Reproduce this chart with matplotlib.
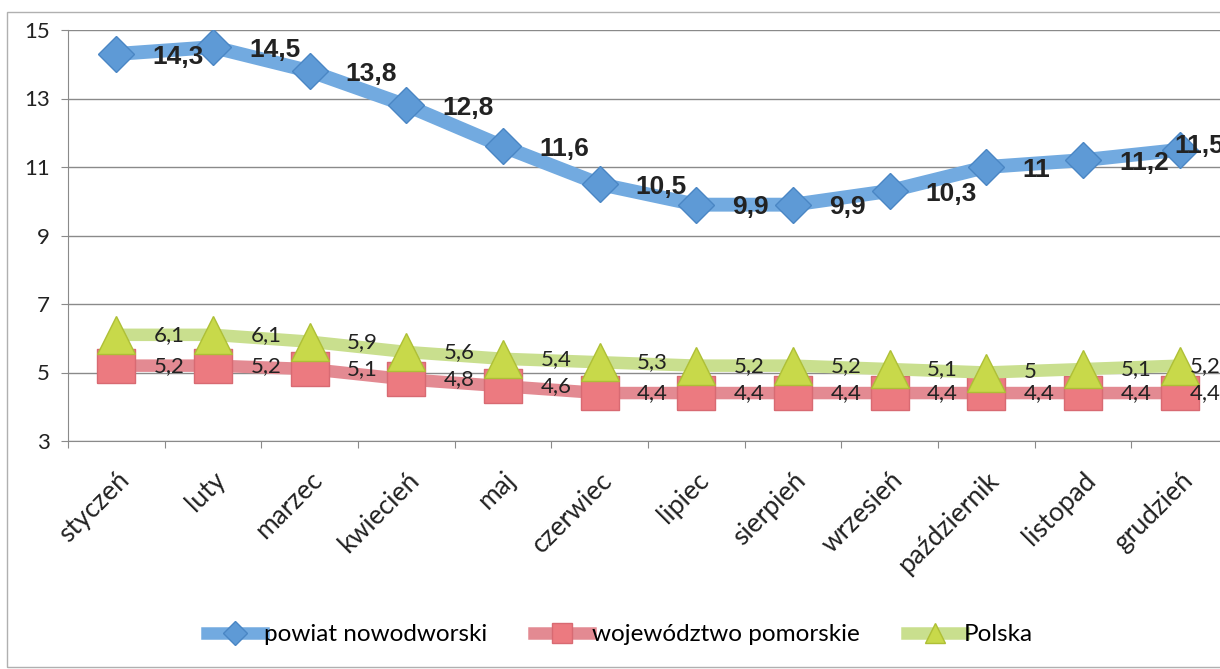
import matplotlib
matplotlib.use("Agg")
import matplotlib.pyplot as plt
from matplotlib.patches import Rectangle

months = ["styczeń", "luty", "marzec", "kwiecień", "maj", "czerwiec",
          "lipiec", "sierpień", "wrzesień", "październik", "listopad", "grudzień"]
powiat = [14.3, 14.5, 13.8, 12.8, 11.6, 10.5, 9.9, 9.9, 10.3, 11.0, 11.2, 11.5]
wojewodztwo = [5.2, 5.2, 5.1, 4.8, 4.6, 4.4, 4.4, 4.4, 4.4, 4.4, 4.4, 4.4]
polska = [6.1, 6.1, 5.9, 5.6, 5.4, 5.3, 5.2, 5.2, 5.1, 5.0, 5.1, 5.2]
yticks = [3, 5, 7, 9, 11, 13, 15]

plt.rcParams["font.family"] = ["Lato", "DejaVu Sans"]

W, H = 1220, 669
fig = plt.figure(figsize=(W / 100, H / 100), dpi=100)

# outer chart border (partly cut off by the scan)
fig.patches.append(Rectangle((7 / W, 2 / H), 1.2, (H - 12 - 2) / H,
                             transform=fig.transFigure, fill=False,
                             edgecolor="#b0b0b0", lw=1.0))

left, right = 68, 1228
top, bottom = 30, 441
ax = fig.add_axes([left / W, 1 - bottom / H, (right - left) / W, (bottom - top) / H])

x = list(range(len(months)))


def fmt(v):
    return f"{v:g}".replace(".", ",")


# blue series
ax.plot(x, powiat, color="#72aae0", lw=10, solid_capstyle="round", zorder=3)
ax.plot(x, powiat, ls="none", marker="D", markersize=18,
        markerfacecolor="#5e9ad6", markeredgecolor="#4a86c4", mew=1, zorder=4)

# red series
rect = [(-1, -0.9), (1, -0.9), (1, 0.9), (-1, 0.9), (-1, -0.9)]
ax.plot(x, wojewodztwo, color="#e38a92", lw=9, zorder=3)
ax.plot(x, wojewodztwo, ls="none", marker=rect, markersize=27,
        markerfacecolor="#ec7a80", markeredgecolor="#d86a72", mew=1, zorder=4)

# green series
ax.plot(x, polska, color="#c9df8e", lw=9, zorder=5)
ax.plot(x, polska, ls="none", marker="^", markersize=27,
        markerfacecolor="#c8d94a", markeredgecolor="#aebf36", mew=1, zorder=6)

last = len(months) - 1
for i in x:
    if i < last:
        bdx, bdy, dx = 26, -2, 27
    else:
        bdx, bdy, dx = -4, 3, 7
    ax.annotate(fmt(powiat[i]), (i, powiat[i]), xytext=(bdx, bdy),
                textcoords="offset points", ha="left", va="center",
                fontsize=19, fontweight="bold", family="Liberation Sans",
                color="#222222", zorder=8, annotation_clip=False)
    ax.annotate(fmt(polska[i]), (i, polska[i]), xytext=(dx, 0),
                textcoords="offset points", ha="left", va="center",
                fontsize=16, color="#222222", zorder=8, annotation_clip=False)
    ax.annotate(fmt(wojewodztwo[i]), (i, wojewodztwo[i]), xytext=(dx, 0),
                textcoords="offset points", ha="left", va="center",
                fontsize=16, color="#222222", zorder=8, annotation_clip=False)

ax.set_xlim(-0.5, len(months) - 0.5)
ax.set_ylim(3, 15)
ax.set_yticks(yticks)
ax.set_yticklabels([str(t) for t in yticks], fontsize=16, color="#222222")
ax.yaxis.grid(True, color="#8a8a8a", lw=1.0)
ax.set_axisbelow(True)

ax.set_xticks([i - 0.5 for i in range(len(months) + 1)])
ax.set_xticklabels([])
ax.set_xticks(x, minor=True)
ax.set_xticklabels(months, minor=True, rotation=45, ha="right",
                   rotation_mode="anchor", fontsize=19, color="#222222")
ax.tick_params(axis="x", which="major", length=5, color="#8a8a8a")
ax.tick_params(axis="x", which="minor", length=0, pad=19)
ax.tick_params(axis="y", length=5, color="#8a8a8a", pad=8)

for s in ["top", "right"]:
    ax.spines[s].set_visible(False)
ax.spines["left"].set_color("#8a8a8a")
ax.spines["bottom"].set_color("#8a8a8a")

# legend
h1, = ax.plot([], [], color="#72aae0", lw=9, marker="D", markersize=12,
              markerfacecolor="#5e9ad6", markeredgecolor="#4a86c4")
h2, = ax.plot([], [], color="#e38a92", lw=9, marker="s", markersize=14,
              markerfacecolor="#ec7a80", markeredgecolor="#d86a72")
h3, = ax.plot([], [], color="#c9df8e", lw=9, marker="^", markersize=14,
              markerfacecolor="#c8d94a", markeredgecolor="#aebf36")
fig.legend([h1, h2, h3], ["powiat nowodworski", "województwo pomorskie", "Polska"],
           loc="center", bbox_to_anchor=(0.508, 0.051), ncol=3, frameon=False,
           fontsize=17.5, handlelength=2.3, handletextpad=0.05, columnspacing=1.95)

fig.savefig("out.png", dpi=100)
